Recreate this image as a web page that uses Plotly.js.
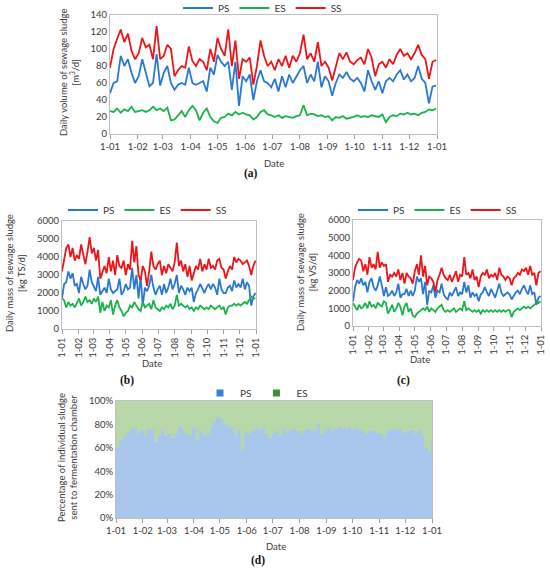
<!DOCTYPE html>
<html>
<head>
<meta charset="utf-8">
<meta name="viewport" content="width=550, initial-scale=1">
<script src="https://cdn.plot.ly/plotly-3.0.1.min.js"></script>
<style>html,body{margin:0;padding:0;background:#fff;overflow:hidden;width:550px;height:570px;}#chart{width:550px;height:570px;overflow:hidden;}</style>
</head>
<body>
<div id="chart"></div>
<script>
const START_DATE = '2019-01-01';
const STEP_DAYS = 4;

// (a) Daily volume of sewage sludge [m3/d]
const PS_VOL = [48,60,62,92,80,88,72,60, 68,88,72,56,60,94,57, 72,80,60,52,58,60,58,78, 60,58,60,62,50,78,70, 93,85,80,85,52,85,33,68, 62,70,40,62,75,62,60,55, 65,50,68,55,70,60,68, 75,80,60,70,62,85,55,68, 62,45,60,70,66,73,65,62, 66,60,50,75,62,52,62, 48,62,66,62,70,75,64,70, 62,66,80,65,60,36,56,57];
const ES_VOL = [27,26,30,25,29,27,32,26, 27,28,26,28,32,28,30, 27,31,16,17,22,27,20,28, 33,28,16,25,30,20,15, 13,19,20,24,22,26,23,25, 23,22,17,20,26,28,23,22, 20,22,19,21,20,19,21, 22,34,22,24,23,21,22,20, 21,16,20,19,21,18,19,20, 22,20,21,20,22,21,20, 23,14,20,22,21,24,23,25, 23,24,22,25,26,29,28,30];
const SS_VOL = [78,100,112,123,108,118,98,88, 95,113,102,105,88,127,88, 92,105,100,68,75,80,78,103, 86,80,88,85,75,100,85, 113,100,92,123,80,110,65,88, 85,90,58,80,110,92,80,85, 75,88,80,92,78,92,85, 95,117,88,95,85,108,80,85, 78,63,80,95,88,96,85,82, 87,90,82,100,90,68,82, 85,78,88,82,93,100,92,95, 88,95,105,93,88,65,85,87];

// (b) Daily mass of sewage sludge [kg TS/d]
const PS_TS = [1700,2500,2600,3200,2800,3100,2400,2500, 2000,2900,2500,2200,2400,3300,2600, 2300,2100,2900,1900,2100,2300,2000,2800, 2200,2000,2100,2200,2800,1900,2100, 2500,2200,2300,3400,2200,3000,1700,2900, 1300,2300,2100,2400,3000,2300,1900,2200, 2400,1900,2500,2000,2300,2800,2200, 2500,3000,2000,2400,2200,1900,2300,2100, 2300,1500,2000,2200,2500,2200,2000,2300, 2500,2200,2500,2300,1900,2800,2200, 2000,2000,2300,2400,2100,2700,2300,2500, 2300,2800,2200,2600,2400,1300,1800,2000];
const ES_TS = [1700,1600,1200,1500,1300,1400,1200,1500, 1700,1300,1500,1800,1500,1600,1400, 1700,1500,1800,900,1500,1000,1300,1200, 1600,800,1300,1600,1200,1000,700, 900,1000,1300,1200,1500,1300,1100,1000, 1500,1200,1300,1400,1100,1600,1200,1100, 1000,1200,1100,1300,1200,1400,1100, 1300,1900,1300,1400,1300,1200,1300,1100, 1200,1000,1200,1100,1300,1200,1100,1200, 1100,1300,1200,1100,1200,1300,1100, 1200,800,1200,1300,1300,1400,1300,1400, 1300,1400,1500,1400,1600,1800,1700,1700];
const SS_TS = [3200,3800,4500,4700,4000,4500,3800,4100, 3900,4700,4200,3600,4300,5100,4200, 4500,3800,4400,2800,3200,3500,3100,4000, 3200,3800,3000,4100,3500,3400,3800, 3000,3600,3300,4900,3700,4600,3000,2700, 3500,3200,2400,3200,4300,3500,3300,3600, 3800,3000,3500,3100,3600,3400,3200, 3700,4800,3500,3800,3200,3600,2900,3500, 2700,3100,3500,3300,3900,3200,3600,3300, 3900,3400,3500,3300,3800,3900,3400, 3300,2800,3200,3500,3300,4000,3700,3900, 3800,3600,3700,3800,3500,3000,3500,3800];

// (c) Daily mass of sewage sludge [kg VS/d]
const PS_VS = [1400,2200,2600,2400,2700,2300,2500,1900, 2500,2700,2200,2000,2300,2800,2300, 1700,2200,1700,1800,2000,1700,1900,2400, 1600,1800,1800,2100,1700,2000,1700, 2000,2800,2500,2700,1800,2500,1200,2000, 1900,2300,1600,2000,1900,2400,1800,1600, 1500,1900,1700,2000,2200,1700,1900, 1800,2500,1900,2300,1600,1900,1700,1800, 1400,1800,1900,2200,1900,1700,2100,1800, 1600,2000,2400,1900,1700,1800,1900, 1800,1500,1700,1900,2000,1800,2100,2300, 2000,1800,2300,1800,1900,1200,1600,1700];
const ES_VS = [1300,1100,900,1200,1000,1100,1300,1000, 1400,1100,1200,1000,1300,1200,1100, 1400,1300,700,1000,1200,800,1000,1300, 1100,600,1100,1300,800,1000,600, 500,700,800,900,1000,900,1100,800, 1000,900,800,1000,1100,1200,900,800, 900,800,900,1000,800,900,1000, 900,1400,900,1000,900,800,900,800, 900,700,900,800,900,800,900,800, 900,800,900,800,900,800,900, 900,500,800,900,1000,900,1000,1100, 1000,1100,1000,1100,1200,1300,1300,1400];
const SS_VS = [2600,3300,3600,3800,3700,3100,3500,2900, 3900,3300,3500,3200,4200,3300,3600, 3400,3500,2500,2900,2800,3000,2800,3200, 2600,3000,2400,3000,2800,2700,2400, 3100,3500,2900,4000,2800,3400,2300,2800, 2700,2500,1900,2600,2900,3300,2900,2700, 2600,2900,2500,2800,3100,2500,2900, 2800,3900,2900,3000,2700,3200,2600,2800, 2200,2800,3000,2900,3200,2700,2900,2800, 3000,2600,3300,2900,2800,2600,2800, 2700,2300,2700,2800,3000,2900,3200,3100, 3300,2900,3400,2900,3000,2300,3000,3100];

// (d) Percentage of individual sludge sent to fermentation chamber [%]
const PS_PCT = [60,66,70,73,76,77,72,75, 70,76,75,65,70,75,70, 72,68,72,78,75,72,70,77, 67,74,70,72,78,82,86, 85,80,78,77,70,75,58,73, 72,74,76,75,77,72,68,72, 74,70,76,73,75,77,74, 72,74,76,74,75,80,72,75, 77,73,76,79,77,76,78,75, 77,76,74,72,75,74,73, 72,68,74,76,75,76,76,73, 74,75,72,75,70,60,56,65];
const ES_PCT = [40,34,30,27,24,23,28,25, 30,24,25,35,30,25,30, 28,32,28,22,25,28,30,23, 33,26,30,28,22,18,14, 15,20,22,23,30,25,42,27, 28,26,24,25,23,28,32,28, 26,30,24,27,25,23,26, 28,26,24,26,25,20,28,25, 23,27,24,21,23,24,22,25, 23,24,26,28,25,26,27, 28,32,26,24,25,24,24,27, 26,25,28,25,30,40,44,35];

const SERIES_NAMES = ['PS','ES','SS'];
const MONTH_TICK_FORMAT = '%-d-%m';

// ---- Dates (regular 4-day sampling) ----
const DAY_MS = 86400000;
const t0 = Date.parse(START_DATE + 'T00:00:00Z');
const dates = PS_VOL.map((_, i) => new Date(t0 + i * STEP_DAYS * DAY_MS).toISOString().slice(0, 10));

// ---- Styles ----
const COL = {PS:'#2a78d4', ES:'#19b24b', SS:'#ee1418'};
const BAR_COL = {PS:'#a9c7ec', ES:'#b9d8a9'};
const LEG_COL = {PS:'#3a7fd6', ES:'#3d8f35'};
const FONT = 'Lato, "Open Sans", sans-serif';
const TXT = '#3a3a3a';
const AX = '#c0c0c0';
const W = 550, H = 570;
const px = v => v / W;
const py = v => 1 - v / H;

function lineTrace(name, y, ax, legend) {
  return {type:'scatter', mode:'lines', name, x:dates, y, xaxis:'x'+ax, yaxis:'y'+ax,
    legend, line:{color:COL[name], width:1.8}, hoverinfo:'skip'};
}

const traces = [];
[[PS_VOL,ES_VOL,SS_VOL,'','legend'],[PS_TS,ES_TS,SS_TS,'2','legend2'],[PS_VS,ES_VS,SS_VS,'3','legend3']].forEach(g => {
  [0,1,2].forEach(k => traces.push(lineTrace(SERIES_NAMES[k], g[k], g[3], g[4])));
});
traces.push({type:'bar', name:'PS', x:dates, y:PS_PCT, xaxis:'x4', yaxis:'y4', offset:0, width:STEP_DAYS*DAY_MS,
  marker:{color:BAR_COL.PS, line:{width:0}}, showlegend:false, hoverinfo:'skip'});
traces.push({type:'bar', name:'ES', x:dates, y:ES_PCT, xaxis:'x4', yaxis:'y4', offset:0, width:STEP_DAYS*DAY_MS,
  marker:{color:BAR_COL.ES, line:{width:0}}, showlegend:false, hoverinfo:'skip'});
['PS','ES'].forEach(n => traces.push({type:'scatter', mode:'markers', name:n, x:[null], y:[null], xaxis:'x4', yaxis:'y4',
  legend:'legend4', marker:{symbol:'square', size:7, color:LEG_COL[n]}, hoverinfo:'skip'}));

function xax(domain, anchor, angle) {
  return {domain, anchor, type:'date', range:['2019-01-01','2020-01-01'], tick0:'2019-01-01', dtick:'M1',
    tickformat:MONTH_TICK_FORMAT, tickangle:angle, ticks:'outside', ticklen:4, tickcolor:'#a0a0a0',
    showline:true, linecolor:AX, mirror:true, showgrid:false, zeroline:false, automargin:false,
    tickfont:{family:FONT, size:9.5, color:TXT}, fixedrange:true};
}
function yax(domain, anchor, range, dtick, suffix, grid) {
  return {domain, anchor, range, dtick, ticksuffix:suffix||'', ticks:'', showline:true, linecolor:AX, mirror:true,
    showgrid:!!grid, gridcolor:'#d9d9d9', zeroline:false, automargin:false,
    tickfont:{family:FONT, size:9.5, color:TXT}, fixedrange:true};
}

function legendAt(x, y) {
  return {orientation:'h', x, y, xanchor:'left', yanchor:'middle', bgcolor:'rgba(0,0,0,0)', traceorder:'normal',
    font:{family:FONT, size:10, color:TXT}, itemclick:false, itemdoubleclick:false};
}

function ann(text, x, y, opts) {
  return Object.assign({text, x, y, xref:'paper', yref:'paper', showarrow:false, xanchor:'center', yanchor:'middle',
    font:{family:FONT, size:9.5, color:TXT}}, opts || {});
}
const rot = {textangle:-90};
const panel = s => ann('<b>'+s+'</b>', 0, 0, {font:{family:'"Liberation Serif", "DejaVu Serif", serif', size:11.5, color:'#111'}});

const annotations = [
  ann('Daily volume of sewage sludge<br>[m<sup>3</sup>/d]', px(70), py(72), rot),
  ann('Daily mass of sewage sludge<br>[kg TS/d]', px(16), py(273), rot),
  ann('Daily mass of sewage sludge<br>[kg VS/d]', px(307), py(272), rot),
  ann('Percentage of individual sludge<br>sent to fermentation chamber', px(67), py(458), rot),
  ann('Date', px(274), py(163)),
  ann('Date', px(152), py(363)),
  ann('Date', px(420), py(359)),
  ann('Date', px(276), py(546)),
];
[['(a)',251,173],['(b)',127,380],['(c)',403,380],['(d)',258,560]].forEach(p => {
  const a = panel(p[0]); a.x = px(p[1]); a.y = py(p[2]); annotations.push(a);
});

const layout = {
  width:W, height:H, margin:{l:0,r:0,t:0,b:0,autoexpand:false}, paper_bgcolor:'#fff', plot_bgcolor:'#fff',
  font:{family:FONT, color:TXT}, barmode:'stack', bargap:0,
  xaxis: xax([px(110), px(437)], 'y', 0),
  yaxis: yax([py(134), py(15)], 'x', [0,140], 20),
  xaxis2: xax([px(62), px(256)], 'y2', -90),
  yaxis2: yax([py(329), py(221)], 'x2', [0,6000], 1000),
  xaxis3: xax([px(353), px(541)], 'y3', -90),
  yaxis3: yax([py(326), py(220)], 'x3', [0,6000], 1000),
  xaxis4: xax([px(116), px(432)], 'y4', 0),
  yaxis4: yax([py(518), py(401)], 'x4', [0,100], 20, '%', true),
  legend: legendAt(px(178), py(8)),
  legend2: legendAt(px(63), py(210)),
  legend3: legendAt(px(353), py(210)),
  legend4: legendAt(px(200), py(393)),
  annotations, showlegend:true
};

Plotly.newPlot('chart', traces, layout, {staticPlot:true, displayModeBar:false});
</script>
</body>
</html>
